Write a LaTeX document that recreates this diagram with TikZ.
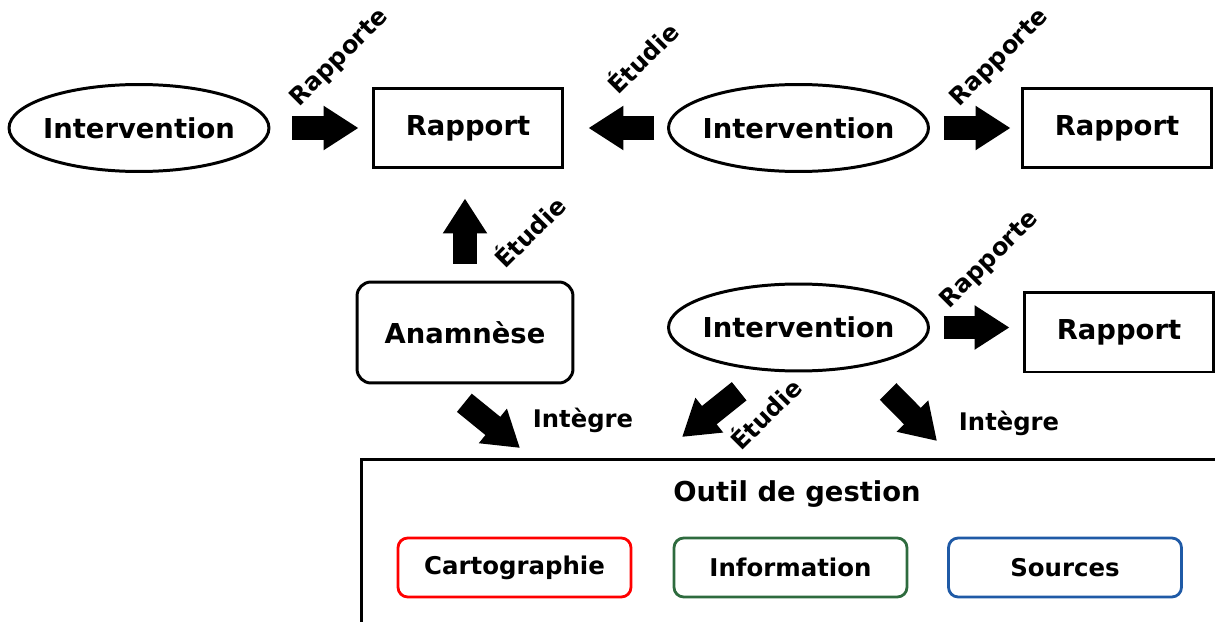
\documentclass[tikz,border=0pt]{standalone}
\usepackage{fontspec}
\setmainfont{DejaVu Sans}
\usetikzlibrary{positioning,arrows.meta,shapes.geometric}
\definecolor{cartored}{HTML}{FF0000}
\definecolor{infogreen}{HTML}{2E6B3E}
\definecolor{srcblue}{HTML}{1F5AA6}
\tikzset{
  ell/.style={ellipse, draw, line width=1.7pt, inner xsep=-0.6cm, inner ysep=0pt,
              minimum width=5.2cm, minimum height=1.74cm,
              font=\fontsize{15.6}{18}\selectfont\bfseries},
  box/.style={rectangle, draw, line width=1.7pt,
              minimum width=3.8cm, minimum height=1.6cm,
              font=\fontsize{15.6}{18}\selectfont\bfseries},
  rbox/.style={rectangle, rounded corners=8pt, draw, line width=1.7pt,
               minimum width=4.32cm, minimum height=2.02cm,
               font=\fontsize{15.6}{18}\selectfont\bfseries},
  tool/.style={rectangle, draw, line width=1.7pt, anchor=north west,
               minimum width=18cm, minimum height=4cm},
  sub/.style={rectangle, rounded corners=5.5pt, draw=#1, line width=1.6pt,
              minimum width=4.66cm, minimum height=1.18cm,
              font=\fontsize{13.9}{16}\selectfont\bfseries},
  fat/.style={line width=0.47cm, -{Triangle[length=0.7cm,width=0.84cm]}},
  lbl/.style={font=\fontsize{13.8}{16}\selectfont\bfseries, inner sep=1pt},
}
\begin{document}
\begin{tikzpicture}[x=0.02cm, y=0.02cm]
  \useasboundingbox (0,0) rectangle (1215,-622);
  \clip (0,0) rectangle (1215,-622);

  \node[ell] (int1) at (139,-128)   {Intervention};
  \node[box] (rap1) at (468,-128)   {Rapport};
  \node[ell] (int2) at (798.5,-128) {Intervention};
  \node[box] (rap2) at (1117,-128)  {Rapport};
  \node[rbox] (ana) at (465,-332.5) {Anamnèse};
  \node[ell] (int3) at (798.5,-327.5) {Intervention};
  \node[box] (rap3) at (1119,-332)  {Rapport};

  % outil de gestion
  \node[tool] (outil) at (360,-458) {};
  \node[font=\fontsize{15.6}{18}\selectfont\bfseries] (titre) at (797,-494) {Outil de gestion};
  \node[sub=cartored]  (carto) at (514.5,-567.5) {Cartographie};
  \node[sub=infogreen] (info)  at (790.5,-567.5) {Information};
  \node[sub=srcblue]   (src)   at (1065,-567.5)  {Sources};

  \coordinate (cA) at (520,-448);
  \coordinate (cE) at (682,-437);
  \coordinate (cI) at (937,-441);

  \draw[fat, shorten <=0.44cm, shorten >=0.26cm] (int1) -- (rap1);
  \draw[fat, shorten <=0.26cm, shorten >=0.48cm] (int2) -- (rap1);
  \draw[fat, shorten <=0.28cm, shorten >=0.2cm] (int2) -- (rap2);
  \draw[fat, shorten <=0.28cm, shorten >=0.26cm] (int3.east) -- (int3.east -| rap3.west);
  \draw[fat, shorten <=0.34cm, shorten >=0.58cm] (ana.north) -- (ana.north |- rap1.south);
  \draw[fat, shorten <=0.58cm] (ana.246.5) -- (cA);
  \draw[fat, shorten <=0.65cm] (int3.232) -- (cE);
  \draw[fat, shorten <=0.7cm] (int3.-31) -- (cI);

  \node[lbl, rotate=45] (lr1) at (340,-58)  {Rapporte};
  \node[lbl, rotate=45] (le1) at (642,-57)  {Étudie};
  \node[lbl, rotate=45] (lr2) at (1000,-58) {Rapporte};
  \node[lbl, rotate=45] (le2) at (529,-231) {Étudie};
  \node[lbl, rotate=45] (lr3) at (990,-260) {Rapporte};
  \node[lbl, rotate=45] (le3) at (765,-413) {Étudie};
  \node[lbl] (li1) at (583,-420)  {Intègre};
  \node[lbl] (li2) at (1009,-423) {Intègre};
\end{tikzpicture}
\end{document}
